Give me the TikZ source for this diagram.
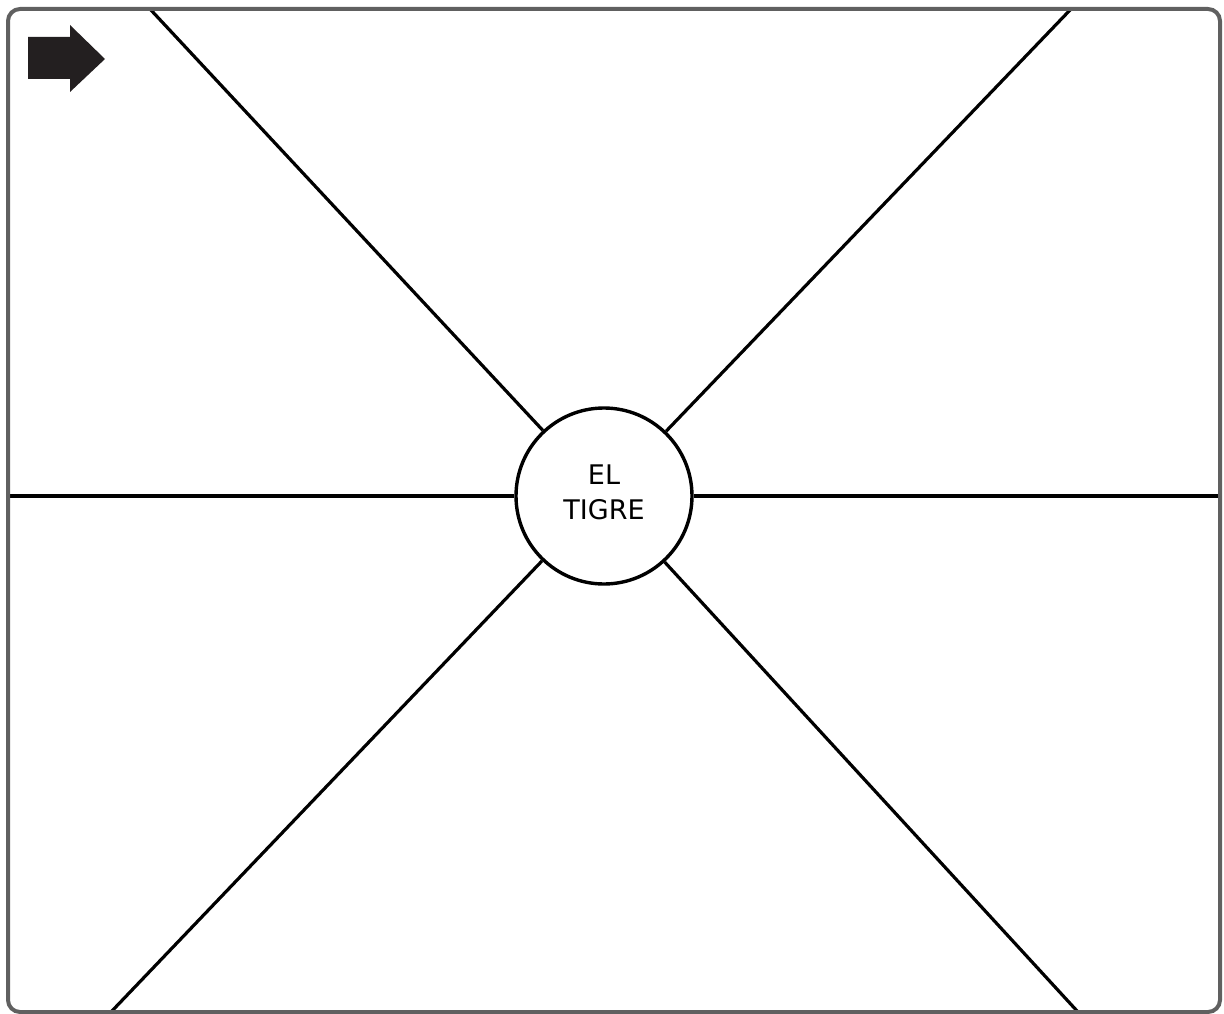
\documentclass[tikz,border=0pt]{standalone}
\usepackage{fontspec}
\setmainfont{DejaVu Sans}
\definecolor{framegray}{HTML}{606060}
\definecolor{arrowdark}{HTML}{231F20}
\begin{document}
\begin{tikzpicture}[x=1pt,y=1pt,
  spoke/.style={line width=3.2pt,black},
  hub/.style={circle,draw=black,line width=3.4pt,minimum size=176pt,inner sep=0pt},
  hubtext/.style={align=center,inner sep=0pt,font=\fontsize{27}{35}\selectfont},
  frame/.style={draw=framegray,line width=4pt,rounded corners=12pt}]
\useasboundingbox (0,0) rectangle (1224,-1014);
\node[hub] (c) at (604,-496) {};
\node[hubtext] (t) at (604,-492) {EL\\TIGRE};
\coordinate (tl) at (150,-9);
\coordinate (tr) at (1071,-9);
\coordinate (bl) at (111,-1012);
\coordinate (br) at (1078,-1012);
\coordinate (lf) at (9,-496);
\coordinate (rt) at (1220,-496);
\draw[spoke] (c) -- (tl);
\draw[spoke] (c) -- (tr);
\draw[spoke] (c) -- (bl);
\draw[spoke] (c) -- (br);
\draw[spoke] (c.west) -- (lf);
\draw[spoke] (c.east) -- (rt);
\draw[frame] (8,-9) rectangle (1220,-1012);
\fill[arrowdark] (28,-37) -- (70,-37) -- (70,-25) -- (105,-59) -- (70,-92) -- (70,-79) -- (28,-79) -- cycle;
\end{tikzpicture}
\end{document}
